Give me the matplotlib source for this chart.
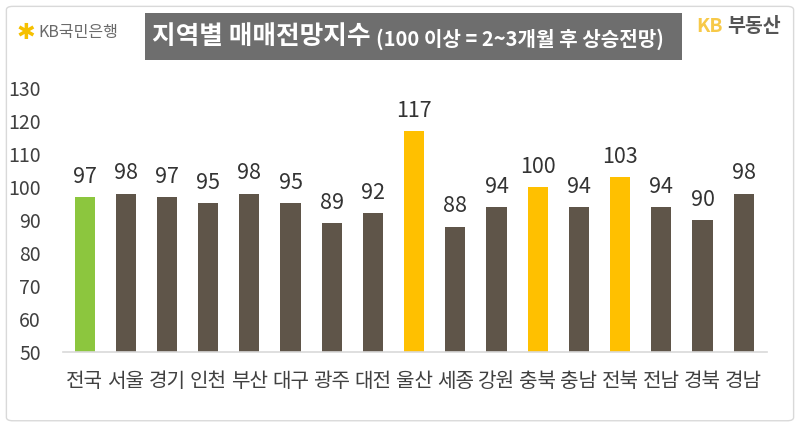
import matplotlib.pyplot as plt
from matplotlib.patches import FancyBboxPatch, Rectangle

plt.rcParams['font.family'] = ['Noto Sans CJK KR', 'DejaVu Sans']

regions = ['전국', '서울', '경기', '인천', '부산', '대구', '광주', '대전', '울산',
           '세종', '강원', '충북', '충남', '전북', '전남', '경북', '경남']
values = [97, 98, 97, 95, 98, 95, 89, 92, 117, 88, 94, 100, 94, 103, 94, 90, 98]
yticks = [50, 60, 70, 80, 90, 100, 110, 120, 130]

green = '#8cc63e'
brown = '#5f5549'
yellow = '#ffc000'
colors = []
for i, v in enumerate(values):
    if i == 0:
        colors.append(green)
    elif v >= 100:
        colors.append(yellow)
    else:
        colors.append(brown)

fig = plt.figure(figsize=(8, 4.25), dpi=100)

# outer frame
fig.patches.append(FancyBboxPatch((0.008, 0.01), 0.984, 0.975, boxstyle='round,pad=0,rounding_size=0.008',
                                  transform=fig.transFigure, fc='none', ec='#d9d9d9', lw=1, zorder=-1))

ax = fig.add_axes([0.079, 0.172, 0.880, 0.621])
x = range(len(values))
ax.bar(x, [v - 50 for v in values], bottom=50, width=0.49, color=colors)
for i, v in enumerate(values):
    ax.text(i, v + 2.8, str(v), ha='center', va='bottom', fontsize=15.5, color='#333333')

ax.set_ylim(50, 130)
ax.set_xlim(-0.52, 16.57)
ax.set_yticks(yticks)
ax.set_xticks(list(x))
ax.set_xticklabels(regions, fontsize=14.5, color='#404040')
ax.tick_params(axis='y', length=0, pad=16, labelsize=14, labelcolor='#404040')
ax.tick_params(axis='x', length=0, pad=14)
for s in ['top', 'right', 'left']:
    ax.spines[s].set_visible(False)
ax.spines['bottom'].set_color('#d9d9d9')
ax.spines['bottom'].set_linewidth(1.2)
ax.patch.set_alpha(0)

# title box
fig.patches.append(Rectangle((145 / 800, 1 - 60 / 425), (682 - 145) / 800, 47 / 425,
                             transform=fig.transFigure, fc='#6e6e6e', ec='none'))
fig.text(152 / 800, 1 - 37 / 425, '지역별 매매전망지수', fontsize=18.5, fontweight='bold',
         color='white', va='center', ha='left')
fig.text(376 / 800, 1 - 39 / 425, '(100 이상 = 2~3개월 후 상승전망)', fontsize=14.5, fontweight='bold',
         color='white', va='center', ha='left')

# logos
fig.text(26 / 800, 1 - 33 / 425, '✱', fontsize=16, color='#f5c000', va='center', ha='center',
         family=['DejaVu Sans'])
fig.text(38 / 800, 1 - 33 / 425, 'KB국민은행', fontsize=11.5, color='#6a6a6a', va='center', ha='left')
fig.text(696 / 800, 1 - 27 / 425, 'KB', fontsize=14, fontweight='bold', color='#f7c948',
         va='center', ha='left')
fig.text(727 / 800, 1 - 27 / 425, '부동산', fontsize=14, fontweight='bold', color='#555555',
         va='center', ha='left')

fig.savefig('out.png', dpi=100)
